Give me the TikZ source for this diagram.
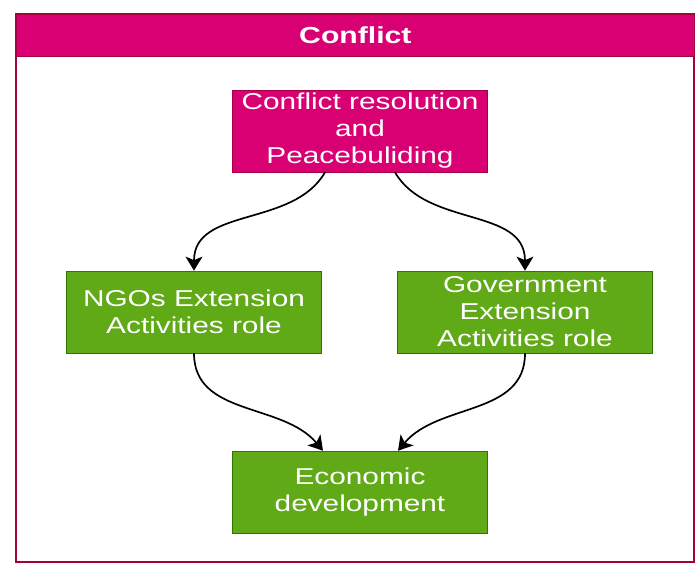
\documentclass[tikz,border=0pt]{standalone}
\usepackage{fontspec}
\setmainfont{Liberation Sans}[FakeStretch=1.3]
\usetikzlibrary{shapes, arrows.meta, positioning}

\definecolor{pinkfill}{HTML}{D80073}
\definecolor{pinkline}{HTML}{A50040}
\definecolor{greenfill}{HTML}{60A917}
\definecolor{greenline}{HTML}{2D7600}

\begin{document}
\begin{tikzpicture}[
  x=0.025cm, y=-0.025cm,
  box/.style={draw, align=center, inner sep=0pt, text=white,
    minimum width=6.375cm, minimum height=2.05cm,
    font=\fontsize{16.3}{19.2}\selectfont},
  pinkbox/.style={box, fill=pinkfill, draw=pinkline},
  greenbox/.style={box, fill=greenfill, draw=greenline},
  link/.style={line width=1.2pt, -{Stealth[length=10pt, width=12pt, inset=2.5pt]}}] % one unit is one pixel of the reference

  \useasboundingbox (0,0) rectangle (697,569);

  % container with its title bar
  \draw[pinkline, fill=white, line width=0.8pt] (16,14) rectangle (694,562);
  \node[anchor=north west, fill=pinkfill, draw=pinkline, inner sep=0pt,
    minimum width=16.95cm, minimum height=1.05cm, text=white,
    font=\fontsize{16.5}{19}\selectfont\bfseries] (title) at (16,14) {Conflict};

  \node[pinkbox] (peace) at (360,131) {Conflict resolution\\and\\Peacebuliding};
  \node[greenbox] (ngo) at (194,312) {NGOs Extension\\Activities role};
  \node[greenbox] (gov) at (525,312) {Government\\Extension\\Activities role};
  \node[greenbox] (eco) at (360,492) {Economic\\development};

  \draw[link] ([xshift=-0.875cm]peace.south) to[out=-120, in=90] (ngo.north);
  \draw[link] ([xshift=0.875cm]peace.south) to[out=-60, in=90] (gov.north);
  \draw[link] (ngo.south) to[out=-90, in=130] ([xshift=-0.925cm]eco.north);
  \draw[link] (gov.south) to[out=-90, in=50] ([xshift=0.95cm]eco.north);
\end{tikzpicture}
\end{document}
